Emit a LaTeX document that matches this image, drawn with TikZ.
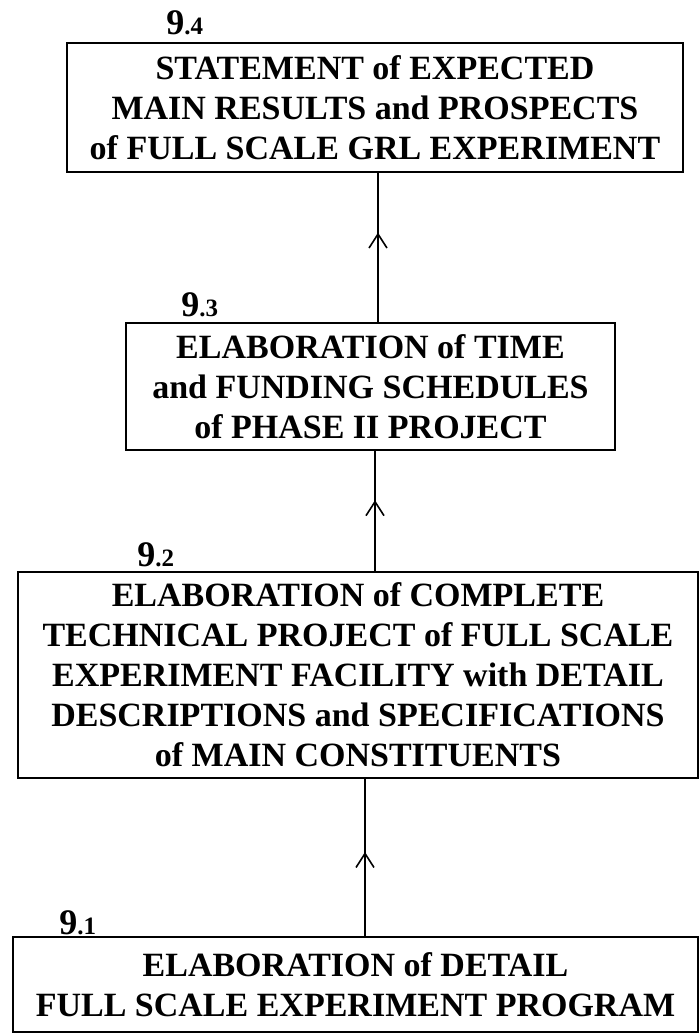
\documentclass[tikz,border=0pt]{standalone}
\usepackage{fontspec}
\setmainfont{Liberation Serif}
\usetikzlibrary{arrows.meta,decorations.markings}

\begin{document}
\begin{tikzpicture}[x=1pt,y=-1pt,
        box/.style={draw=black, line width=1.8pt, inner sep=0pt, align=center,
            font=\bfseries\fontsize{34}{40}\selectfont},
        num/.style={anchor=base west, inner sep=0pt, font=\bfseries\fontsize{36}{36}\selectfont},
        flow/.style={line width=1.6pt, postaction={decorate}, decoration={markings,
            mark=at position #1 with {\arrow{Straight Barb[length=14pt,width=18pt,line width=1.6pt]}}}}]
            \useasboundingbox (0,0) rectangle (699,1036);
            \node[box, minimum width=616pt, minimum height=129pt] (b4) at (375,107.5)
                {STATEMENT of EXPECTED\\MAIN RESULTS and PROSPECTS\\of FULL SCALE GRL EXPERIMENT};
            \node[box, minimum width=489pt, minimum height=127pt] (b3) at (370.5,386.5)
                {ELABORATION of TIME\\and FUNDING SCHEDULES\\of PHASE II PROJECT};
            \node[box, minimum width=680pt, minimum height=206pt] (b2) at (358,675)
                {ELABORATION of COMPLETE\\TECHNICAL PROJECT of FULL SCALE\\EXPERIMENT FACILITY with DETAIL\\DESCRIPTIONS and SPECIFICATIONS\\of MAIN CONSTITUENTS};
            \node[box, minimum width=685pt, minimum height=95pt] (b1) at (355.5,984.5)
                {ELABORATION of DETAIL\\FULL SCALE EXPERIMENT PROGRAM};
            \node[num] (n4) at ([xshift=100pt,yshift=8pt]b4.north west) {9{\fontsize{25}{25}\selectfont.4}};
            \node[num] (n3) at ([xshift=56pt,yshift=6pt]b3.north west) {9{\fontsize{25}{25}\selectfont.3}};
            \node[num] (n2) at ([xshift=120pt,yshift=5pt]b2.north west) {9{\fontsize{25}{25}\selectfont.2}};
            \node[num] (n1) at ([xshift=47pt,yshift=2pt]b1.north west) {9{\fontsize{25}{25}\selectfont.1}};
            \draw[flow=0.6] ([xshift=7.5pt]b3.north) -- ([xshift=7.5pt]b3.north |- b4.south);
            \draw[flow=0.59] ([xshift=17pt]b2.north) -- ([xshift=17pt]b2.north |- b3.south);
            \draw[flow=0.535] ([xshift=9.5pt]b1.north) -- ([xshift=9.5pt]b1.north |- b2.south);
        \end{tikzpicture}
\end{document}
